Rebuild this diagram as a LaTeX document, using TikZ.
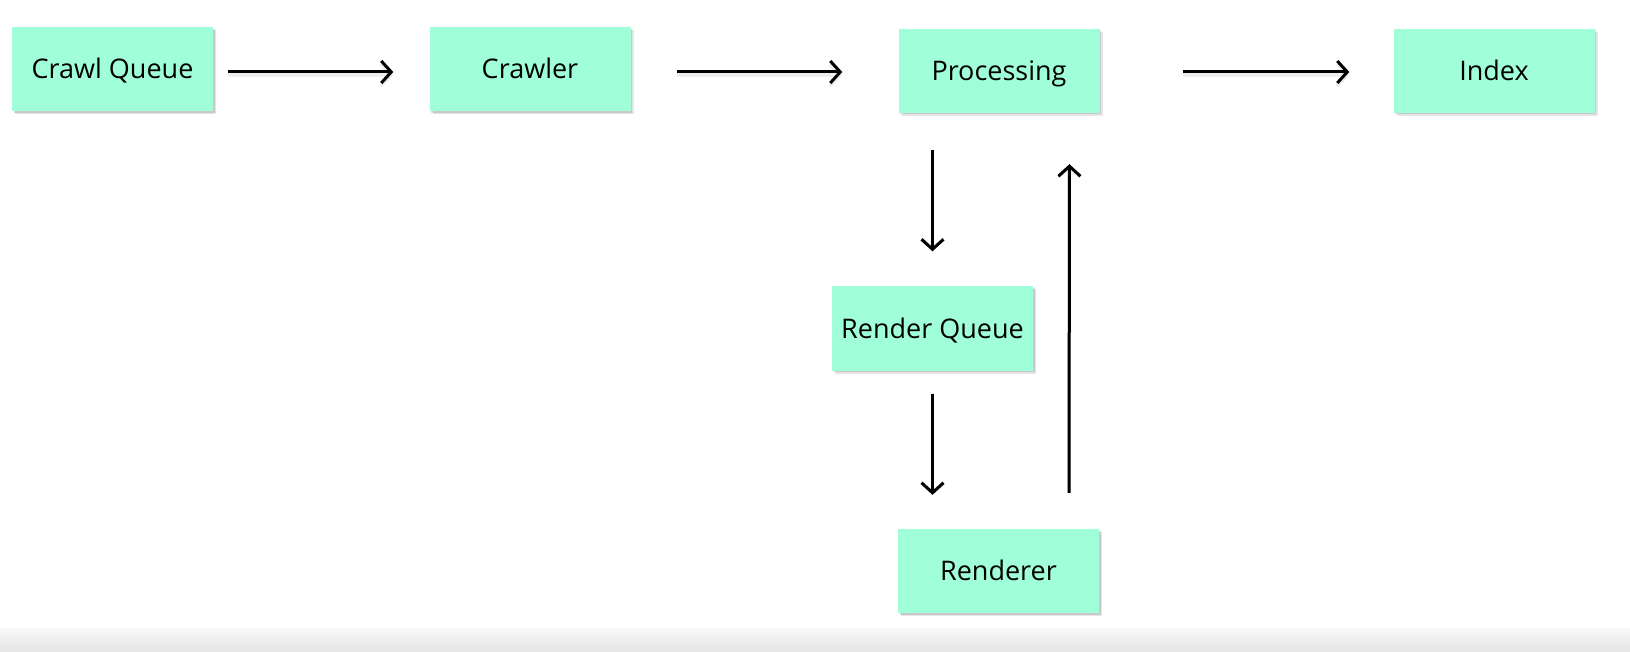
\documentclass[tikz,border=0pt]{standalone}
\usepackage{fontspec}
\setmainfont{Open Sans}
\usetikzlibrary{arrows.meta,shadows,calc}
\definecolor{boxfill}{HTML}{A0FFD8}
\definecolor{bandtop}{HTML}{F9F9F9}
\definecolor{bandbot}{HTML}{E4E4E4}
\tikzset{
  box/.style={rectangle, fill=boxfill, minimum width=201pt, minimum height=84pt,
    inner sep=0pt, text height=25pt, text depth=6pt, font=\fontsize{27}{32}\selectfont,
    drop shadow={shadow xshift=3pt, shadow yshift=-3pt, fill=black, opacity=0.10},
    drop shadow={shadow xshift=1.5pt, shadow yshift=-1.5pt, fill=black, opacity=0.12}},
  flow/.style={line width=3pt, -{Straight Barb[length=10pt,width=22pt,line width=3pt]}},
  flowshadow/.style={line width=3.5pt, draw=black, draw opacity=0.07, -{Straight Barb[length=10pt,width=22pt,line width=3.5pt]}}
}
\begin{document}
\begin{tikzpicture}[x=1pt,y=-1pt]
\useasboundingbox (0,0) rectangle (1630,652);
\fill[white] (0,0) rectangle (1630,652);
\shade[top color=bandtop, bottom color=bandbot] (0,628) rectangle (1630,652);

\node[box] (cq) at (112.5,69.5) {Crawl Queue};
\node[box] (cr) at (530,69.5) {Crawler};
\node[box] (pr) at (999,71) {Processing};
\node[box] (ix) at (1494,71) {Index};
\node[box] (rq) at (932.5,328.5) {Render Queue};
\node[box] (re) at (998.5,571) {Renderer};

\coordinate (upbot) at ($(re.north)+(70.5,0)$);
\coordinate (uptop) at ($(pr.south)+(70.5,0)$);

% shadows of connectors
\begin{scope}[shift={(1.5,3)}]
\draw[flowshadow, shorten <=15pt, shorten >=36pt] (cq.east |- 0,72) -- (cr.west |- 0,72);
\draw[flowshadow, shorten <=46pt, shorten >=56pt] (cr.east |- 0,72) -- (pr.west |- 0,72);
\draw[flowshadow, shorten <=83pt, shorten >=44pt] (pr.east |- 0,72) -- (ix.west |- 0,72);
\end{scope}
\begin{scope}[shift={(2.5,2)}]
\draw[flowshadow, shorten <=37pt, shorten >=35pt] (rq.north |- pr.south) -- (rq.north);
\draw[flowshadow, shorten <=23pt, shorten >=34pt] (rq.south) -- (rq.south |- re.north);
\draw[flowshadow, shorten <=36pt, shorten >=51pt] (upbot) -- (uptop);
\end{scope}

\draw[flow, shorten <=15pt, shorten >=36pt] (cq.east |- 0,72) -- (cr.west |- 0,72);
\draw[flow, shorten <=46pt, shorten >=56pt] (cr.east |- 0,72) -- (pr.west |- 0,72);
\draw[flow, shorten <=83pt, shorten >=44pt] (pr.east |- 0,72) -- (ix.west |- 0,72);
\draw[flow, shorten <=37pt, shorten >=35pt] (rq.north |- pr.south) -- (rq.north);
\draw[flow, shorten <=23pt, shorten >=34pt] (rq.south) -- (rq.south |- re.north);
\draw[flow, shorten <=36pt, shorten >=51pt] (upbot) -- (uptop);
\end{tikzpicture}
\end{document}
